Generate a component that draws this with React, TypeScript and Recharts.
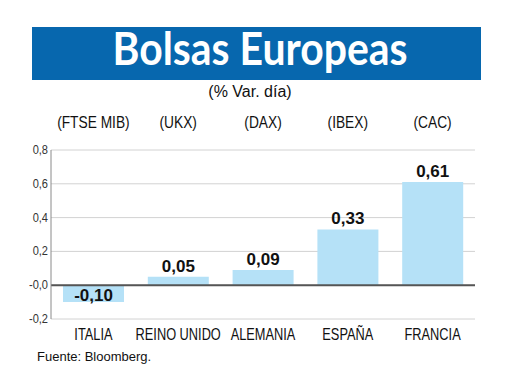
import React from "react";
import {
  BarChart,
  Bar,
  XAxis,
  YAxis,
  CartesianGrid,
  ReferenceLine,
  LabelList,
} from "recharts";

const countries = ["ITALIA", "REINO UNIDO", "ALEMANIA", "ESPAÑA", "FRANCIA"];
const indices = ["(FTSE MIB)", "(UKX)", "(DAX)", "(IBEX)", "(CAC)"];
const changes = [-0.1, 0.05, 0.09, 0.33, 0.61];
const yTicks = [-0.2, 0, 0.2, 0.4, 0.6, 0.8];

const data = countries.map((name, i) => ({ name, index: indices[i], value: changes[i] }));

const SANS = "'Liberation Sans', Arial, sans-serif";

const fmtTick = (v: number) => (v === 0 ? "-0,0" : v.toFixed(1).replace(".", ","));
const fmtVal = (v: number) => v.toFixed(2).replace(".", ",");

const ValueLabel = (props: any) => {
  const { x, y, width, height, value } = props;
  const cx = x + width / 2;
  const top = Math.min(y, y + height);
  const ty = value < 0 ? top + 16 : top - 5;
  return (
    <text x={cx} y={ty} textAnchor="middle" fontFamily={SANS} fontWeight="bold" fontSize={17} fill="#111">
      {fmtVal(value)}
    </text>
  );
};

const XTick = (props: any) => {
  const { x, y, payload } = props;
  return (
    <g transform={`translate(${x},${y + 13}) scale(0.8,1)`}>
      <text x={0} y={0} textAnchor="middle" fontFamily={SANS} fontSize={16} fill="#111">
        {payload.value}
      </text>
    </g>
  );
};

const IndexTick = (props: any) => {
  const { x, y, payload } = props;
  const d = data.find((r) => r.name === payload.value);
  return (
    <g transform={`translate(${x},${y - 14}) scale(0.86,1)`}>
      <text x={0} y={0} textAnchor="middle" fontFamily={SANS} fontSize={16} fill="#111">
        {d ? d.index : ""}
      </text>
    </g>
  );
};

const YTick = (props: any) => {
  const { x, y, payload } = props;
  return (
    <g transform={`translate(${x},${y + 4}) scale(0.82,1)`}>
      <text x={0} y={0} textAnchor="end" fontFamily={SANS} fontSize={13.5} fill="#333">
        {fmtTick(payload.value)}
      </text>
    </g>
  );
};

export default function App() {
  return (
    <div style={{ position: "fixed", left: 0, top: 0, width: 520, height: 390, background: "#fff" }}>
      <svg width={520} height={390} style={{ position: "absolute", left: 0, top: 0 }}>
        <rect x={32} y={27} width={449} height={53} fill="#0767AE" />
        <text
          x={260}
          y={65}
          textAnchor="middle"
          fontFamily="Lato, 'Open Sans', sans-serif"
          fontWeight="bold"
          fontSize={45}
          fill="#fff"
          textLength={295}
          lengthAdjust="spacingAndGlyphs"
        >
          Bolsas Europeas
        </text>
        <text x={250} y={97} textAnchor="middle" fontFamily={SANS} fontSize={16} fill="#111">
          (% Var. día)
        </text>
        <text x={37} y={361} fontFamily={SANS} fontSize={13} fill="#111">
          Fuente: Bloomberg.
        </text>
      </svg>
      <div style={{ position: "absolute", left: 0, top: 0 }}>
        <BarChart
          width={520}
          height={390}
          data={data}
          margin={{ top: 120, right: 45, bottom: 41, left: 11 }}
          barSize={61}
        >
          <CartesianGrid horizontal vertical={false} stroke="#d2d2d2" strokeWidth={1} />
          <XAxis
            dataKey="name"
            axisLine={false}
            tickLine={false}
            tick={<XTick />}
            interval={0}
            height={30}
          />
          <XAxis
            xAxisId="top"
            orientation="top"
            dataKey="name"
            axisLine={false}
            tickLine={false}
            tick={<IndexTick />}
            interval={0}
            height={30}
          />
          <YAxis
            domain={[-0.2, 0.8]}
            ticks={yTicks}
            axisLine={{ stroke: "#8a8a8a" }}
            tickLine={false}
            tickSize={0}
            tickMargin={3}
            width={40}
            tick={<YTick />}
            interval={0}
          />
          <ReferenceLine y={0} stroke="#555" strokeWidth={2} />
          <Bar dataKey="value" fill="#B5E1F7" isAnimationActive={false}>
            <LabelList dataKey="value" content={<ValueLabel />} />
          </Bar>
        </BarChart>
      </div>
    </div>
  );
}
